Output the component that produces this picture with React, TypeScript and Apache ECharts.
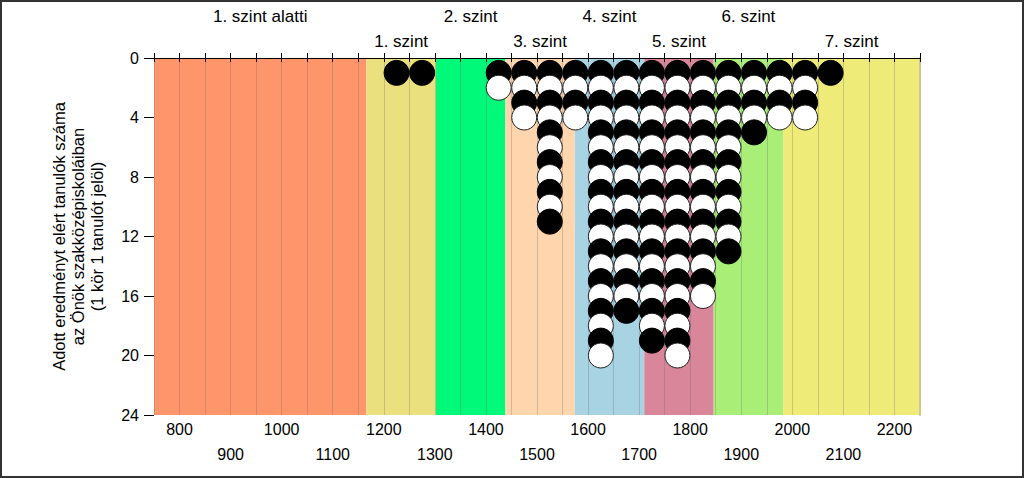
import React, { useEffect, useRef } from "react";
import * as echarts from "echarts";

const FONT = "'Liberation Sans', Arial, sans-serif";

// Level (szint) boundaries on the score scale
const levelBounds = [750, 1166, 1302, 1438, 1574, 1710, 1846, 1982, 2250];
const levelLabels = [
  "1. szint alatti",
  "1. szint",
  "2. szint",
  "3. szint",
  "4. szint",
  "5. szint",
  "6. szint",
  "7. szint",
];
const levelLabelRows = [1, 2, 1, 2, 1, 2, 1, 2];
const levelColors = [
  "#FF966B",
  "#EAE07E",
  "#00F978",
  "#FFD5AE",
  "#A8D3E3",
  "#D9869B",
  "#A9EE77",
  "#EEEB78",
];

// Score bins (centres) and number of students in each
const binCenters = [1225, 1275, 1425, 1475, 1525, 1575, 1625, 1675, 1725, 1775, 1825, 1875, 1925, 1975, 2025, 2075];
const binCounts = [1, 1, 2, 4, 11, 4, 20, 17, 19, 20, 16, 13, 5, 4, 4, 1];

const yTicks = [0, 4, 8, 12, 16, 20, 24];

export default function App() {
  const ref = useRef<HTMLDivElement>(null);

  useEffect(() => {
    if (!ref.current) return;
    const chart = echarts.init(ref.current, undefined, { renderer: "svg" });

    const bandData = levelLabels.map((_, i) => [levelBounds[i], levelBounds[i + 1], levelLabelRows[i]]);

    const dots: any[] = [];
    binCenters.forEach((c, i) => {
      for (let k = 1; k <= binCounts[i]; k++) {
        const black = k % 2 === 1;
        dots.push({
          value: [c, k],
          itemStyle: {
            color: black ? "#000000" : "#ffffff",
            borderColor: black ? "#000000" : "#222222",
            borderWidth: 1,
            opacity: 1,
          },
        });
      }
    });

    const option: any = {
      animation: false,
      backgroundColor: "#ffffff",
      textStyle: { fontFamily: FONT },
      grid: { left: 154, top: 58, width: 766, height: 357 },
      xAxis: [
        {
          type: "value",
          position: "bottom",
          min: 750,
          max: 2250,
          interval: 50,
          z: 2,
          axisLine: { show: true, lineStyle: { color: "#000", width: 1 } },
          axisTick: { show: true, inside: false, length: 4, lineStyle: { color: "#000" } },
          axisLabel: {
            color: "#000",
            fontSize: 16,
            fontFamily: FONT,
            margin: 2,
            lineHeight: 25,
            formatter: (v: number) =>
              v % 200 === 0 ? String(v) : v % 100 === 0 ? "\n" + v : "",
          },
          splitLine: { show: true, lineStyle: { color: "rgba(110,110,110,0.3)", width: 1 } },
        },
        {
          type: "value",
          position: "top",
          min: 750,
          max: 2250,
          interval: 50,
          z: 2,
          axisLine: { show: true, lineStyle: { color: "#000", width: 1 } },
          axisTick: { show: true, inside: false, length: 5, lineStyle: { color: "#000" } },
          axisLabel: { show: false },
          splitLine: { show: false },
        },
      ],
      yAxis: [
        {
          type: "value",
          inverse: true,
          min: yTicks[0],
          max: yTicks[yTicks.length - 1],
          interval: 4,
          z: 2,
          axisLine: { show: false },
          axisTick: { show: true, inside: false, length: 10, lineStyle: { color: "#000" } },
          axisLabel: { color: "#000", fontSize: 16, fontFamily: FONT, margin: 15 },
          splitLine: { show: false },
          name: "Adott eredményt elért tanulók száma\naz Önök szakközépiskoláiban\n(1 kör 1 tanulót jelöl)",
          nameLocation: "middle",
          nameRotate: 90,
          nameGap: 48,
          nameTextStyle: { color: "#000", fontSize: 16.5, lineHeight: 19, fontFamily: FONT },
        },
        {
          type: "value",
          position: "right",
          inverse: true,
          min: 0,
          max: 24,
          z: 2,
          axisLine: { show: true, lineStyle: { color: "#CFC595", width: 2 } },
          axisTick: { show: false },
          axisLabel: { show: false },
          splitLine: { show: false },
        },
      ],
      graphic: [
        {
          type: "rect",
          z: 100,
          silent: true,
          shape: { x: 1, y: 1, width: 1022, height: 476 },
          style: { fill: "none", stroke: "#333", lineWidth: 2 },
        },
      ],
      series: [
        {
          type: "custom",
          z: 1,
          xAxisIndex: 0,
          yAxisIndex: 0,
          silent: true,
          encode: { x: [0, 1], y: 2 },
          data: bandData,
          renderItem: (params: any, api: any) => {
            const idx = params.dataIndex;
            const p0 = api.coord([api.value(0), 0]);
            const p1 = api.coord([api.value(1), 24]);
            const row = api.value(2);
            return {
              type: "group",
              children: [
                {
                  type: "rect",
                  shape: { x: p0[0], y: p0[1], width: p1[0] - p0[0], height: p1[1] - p0[1] },
                  style: { fill: levelColors[idx] },
                },
                {
                  type: "text",
                  style: {
                    text: levelLabels[idx],
                    x: (p0[0] + p1[0]) / 2,
                    y: p0[1] - (row === 1 ? 42 : 17),
                    align: "center",
                    verticalAlign: "middle",
                    fontSize: 17,
                    fontFamily: FONT,
                    fill: "#000",
                  },
                },
              ],
            };
          },
        },
        {
          type: "scatter",
          z: 3,
          xAxisIndex: 0,
          yAxisIndex: 0,
          symbol: "circle",
          symbolSize: 25,
          silent: true,
          itemStyle: { opacity: 1 },
          data: dots,
        },
      ],
    };

    chart.setOption(option);
    return () => chart.dispose();
  }, []);

  return (
    <div
      ref={ref}
      style={{ position: "absolute", left: 0, top: 0, width: 1024, height: 478 }}
    />
  );
}
